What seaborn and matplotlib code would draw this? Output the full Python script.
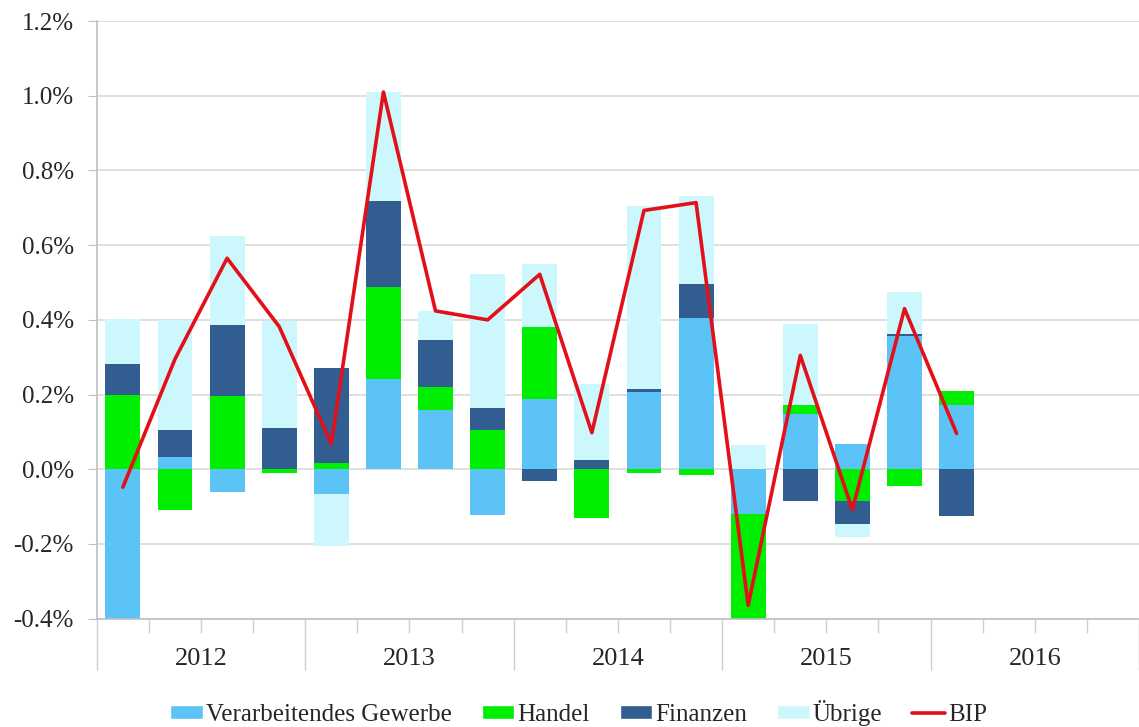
import numpy as np
import pandas as pd
import seaborn as sns
import matplotlib.pyplot as plt
from matplotlib.patches import Patch
from matplotlib.lines import Line2D
from matplotlib.ticker import FuncFormatter, FixedLocator

# quarterly contributions to GDP growth (percentage points), 2012Q1 - 2016Q1
quarters = ['2012Q1', '2012Q2', '2012Q3', '2012Q4',
            '2013Q1', '2013Q2', '2013Q3', '2013Q4',
            '2014Q1', '2014Q2', '2014Q3', '2014Q4',
            '2015Q1', '2015Q2', '2015Q3', '2015Q4',
            '2016Q1']
years = ['2012', '2013', '2014', '2015', '2016']

gewerbe = [-0.45, 0.033, -0.06, 0.0, -0.065, 0.241, 0.158, -0.122, 0.188, 0.0,
           0.208, 0.406, -0.12, 0.148, 0.068, 0.356, 0.171]
handel = [0.20, -0.108, 0.197, -0.01, 0.016, 0.246, 0.062, 0.105, 0.194, -0.131,
          -0.01, -0.014, -0.31, 0.025, -0.084, -0.045, 0.038]
finanzen = [0.081, 0.071, 0.189, 0.11, 0.256, 0.231, 0.126, 0.06, -0.031, 0.026,
            0.007, 0.091, 0.0, -0.084, -0.063, 0.007, -0.125]
uebrige = [0.122, 0.296, 0.239, 0.287, -0.14, 0.292, 0.078, 0.358, 0.168, 0.203,
           0.49, 0.235, 0.066, 0.215, -0.033, 0.111, 0.0]
bip = [-0.048, 0.295, 0.565, 0.382, 0.068, 1.01, 0.424, 0.40, 0.522, 0.098,
       0.693, 0.714, -0.364, 0.305, -0.108, 0.43, 0.096]

series = [('Verarbeitendes Gewerbe', gewerbe, '#5CC3F7'),
          ('Handel', handel, '#00EE00'),
          ('Finanzen', finanzen, '#325D90'),
          ('Übrige', uebrige, '#CCF8FD')]
red = '#E3101A'

sns.set_style('white')
plt.rcParams['font.family'] = ['Liberation Serif', 'DejaVu Serif']

fig = plt.figure(figsize=(11.39, 7.27), dpi=100)
ax = fig.add_axes([0.085, 0.149, 0.915, 0.822])

pos = np.arange(len(quarters))
pos_bottom = np.zeros(len(quarters))
neg_bottom = np.zeros(len(quarters))
for name, vals, col in series:
    vals = np.array(vals)
    # positive parts stack upwards, negative parts downwards
    bottom = np.where(vals >= 0, pos_bottom, neg_bottom)
    sns.barplot(x=pos, y=vals, bottom=bottom, native_scale=True, width=0.67,
                color=col, saturation=1, errorbar=None, linewidth=0, ax=ax)
    pos_bottom = pos_bottom + np.clip(vals, 0, None)
    neg_bottom = neg_bottom + np.clip(vals, None, 0)

sns.lineplot(x=pos, y=bip, color=red, linewidth=2.6, ax=ax)

# axes
ax.set_xlim(-0.5, 19.5)
ax.set_ylim(-0.4, 1.2)
ax.set_axisbelow(True)
ax.set_yticks(np.arange(-0.4, 1.21, 0.2))
ax.yaxis.set_major_formatter(FuncFormatter(lambda v, p: f'{v:.1f}%'))
ax.yaxis.grid(True, color='#D9D9D9', linewidth=1.2)
ax.tick_params(axis='y', length=6.5, color='#BFBFBF', labelsize=18,
               labelcolor='#262626', pad=10, left=True)

year_edges = np.arange(-0.5, 20, 4)
quarter_edges = [q for q in np.arange(-0.5, 20, 1) if q not in year_edges]
ax.xaxis.set_major_locator(FixedLocator(year_edges))
ax.xaxis.set_minor_locator(FixedLocator(quarter_edges))
ax.set_xticklabels([])
ax.tick_params(axis='x', which='major', length=37, color='#D0D0D0', width=1, bottom=True)
ax.tick_params(axis='x', which='minor', length=10, color='#D0D0D0', width=1, bottom=True)
ax.set_xlabel('')
ax.set_ylabel('')

sec = ax.secondary_xaxis('bottom')
sec.set_xticks(np.arange(1.5, 20, 4), labels=years)
sec.tick_params(length=0, pad=21, labelsize=19, labelcolor='#262626')
sec.spines['bottom'].set_visible(False)

for side in ['top', 'right']:
    ax.spines[side].set_visible(False)
ax.spines['left'].set_color('#BFBFBF')
ax.spines['bottom'].set_color('#BFBFBF')
ax.spines['left'].set_linewidth(1.2)
ax.spines['bottom'].set_linewidth(1.2)

handles = [Patch(facecolor=c, label=n) for n, _, c in series]
handles.append(Line2D([0], [0], color=red, linewidth=2.6, label='BIP'))
fig.legend(handles=handles, loc='center', bbox_to_anchor=(0.508, 0.019),
           ncol=5, frameon=False, fontsize=18, handlelength=1.3, handleheight=0.5,
           handletextpad=0.12, columnspacing=1.2, borderpad=0)

fig.savefig('out.png', dpi=100)
